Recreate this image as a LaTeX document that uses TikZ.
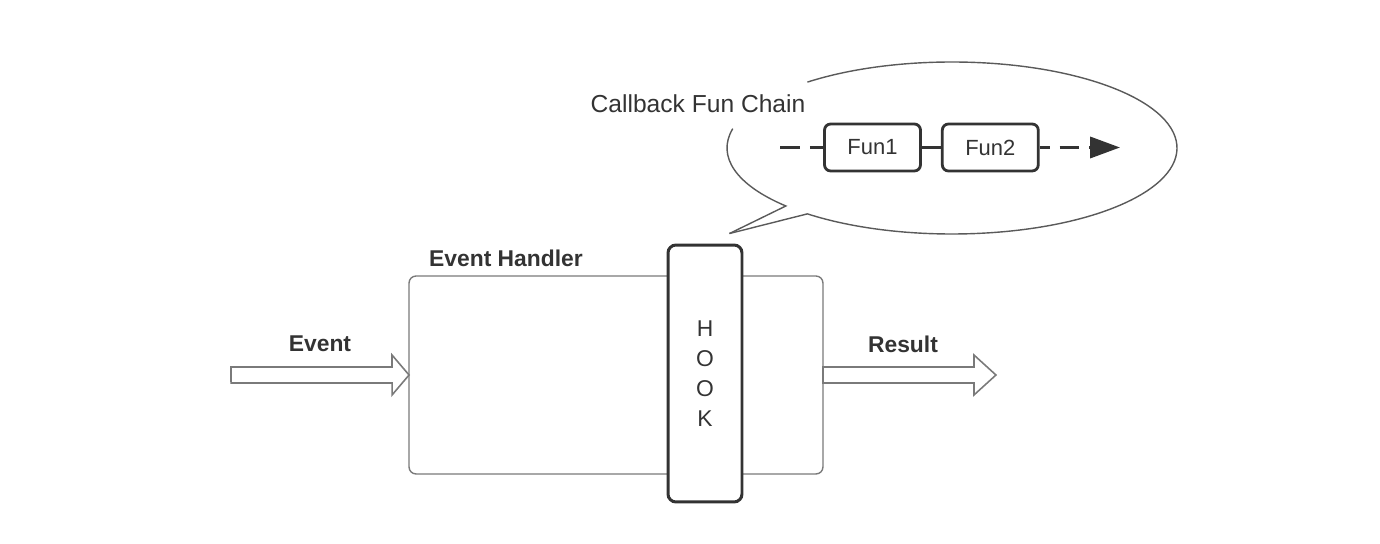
\documentclass[tikz,border=0pt]{standalone}
\usepackage{fontspec}
\setmainfont{Liberation Sans}
\usetikzlibrary{positioning, calc, arrows.meta}
\definecolor{inkdark}{HTML}{333333}
\definecolor{framegray}{HTML}{7A7A7A}
\definecolor{bubblegray}{HTML}{5A5A5A}

\begin{document}
\begin{tikzpicture}[
    x=0.02cm, y=0.02cm,
    node distance=0.38cm,
    every node/.style={align=center, text=inkdark}
]
    % Define styles
    \tikzstyle{handlerbox} = [rectangle, rounded corners=4pt, draw=framegray, line width=0.8pt, minimum width=8.28cm, minimum height=3.96cm, outer sep=0pt]
    \tikzstyle{hookbox} = [rectangle, rounded corners=4.5pt, draw=inkdark, fill=white, line width=1.7pt, minimum width=1.48cm, minimum height=5.14cm, font=\fontsize{13}{17}\selectfont]
    \tikzstyle{funbox} = [rectangle, rounded corners=3.5pt, draw=inkdark, fill=white, line width=1.6pt, minimum width=1.92cm, minimum height=0.94cm, font=\fontsize{12.5}{14}\selectfont]
    \tikzstyle{lbl} = [font=\fontsize{13}{15}\selectfont\bfseries]
    \tikzstyle{fatarrow} = [draw=framegray, fill=white, line width=0.9pt, line join=miter]
    \tikzstyle{bubble} = [draw=bubblegray, line width=0.8pt]
    \tikzstyle{chaindash} = [draw=inkdark, line width=1.8pt, dash pattern=on 11.3pt off 5.7pt]
    \tikzstyle{chainline} = [draw=inkdark, line width=1.8pt]

    \useasboundingbox (0,0) rectangle (1380,544);

    % Event handler with hook
    \node [handlerbox] (handler) at (616,169) {};
    \node [lbl] (handlerlbl) at (506,286) {Event Handler};
    \node [hookbox] (hook) at (705,170.5) {H\\O\\O\\K};

    % Input and output arrows
    \coordinate (evtail) at (231,169);
    \draw [fatarrow] (evtail) ++(0,8) -- ++(161,0) -- ++(0,12) -- (handler.west) -- ++(-17,-20) -- ++(0,12) -- ++(-161,0) -- cycle;
    \node [lbl] (eventlbl) at (320,200) {Event};
    \draw [fatarrow] (handler.east) ++(0,8) -- ++(151,0) -- ++(0,12) -- ++(22,-20) -- ++(-22,-20) -- ++(0,12) -- ++(-151,0) -- cycle;
    \node [lbl] (resultlbl) at (903,200) {Result};

    % Callout bubble
    \coordinate (bubblec) at (952,396);
    \coordinate (tip) at ([shift={(-14,10)}]hook.north east);
    \draw [bubble] (tip) -- ($(bubblec)+(230:225 and 86)$) arc[start angle=230, end angle=490, x radius=225, y radius=86];
    \draw [bubble] (tip) -- ($(bubblec)+(222.4:225 and 86)$) arc[start angle=222.4, end angle=167, x radius=225, y radius=86];
    \node [font=\fontsize{14}{16}\selectfont] (chainlbl) at (698,440) {Callback Fun Chain};

    % Callback chain
    \node [funbox] (fun1) at (872.5,396.5) {Fun1};
    \node [funbox, right=of fun1] (fun2) {Fun2};
    \coordinate (chainstart) at (780,396.5);
    \coordinate (chainend) at (1120,396.5);
    \draw [chaindash] (chainstart) -- (fun1);
    \draw [chainline] (fun1) -- (fun2);
    \draw [chaindash, dash phase=5.7pt, -{Triangle[length=17pt, width=12pt]}] (fun2) -- (chainend);

\end{tikzpicture}
\end{document}
